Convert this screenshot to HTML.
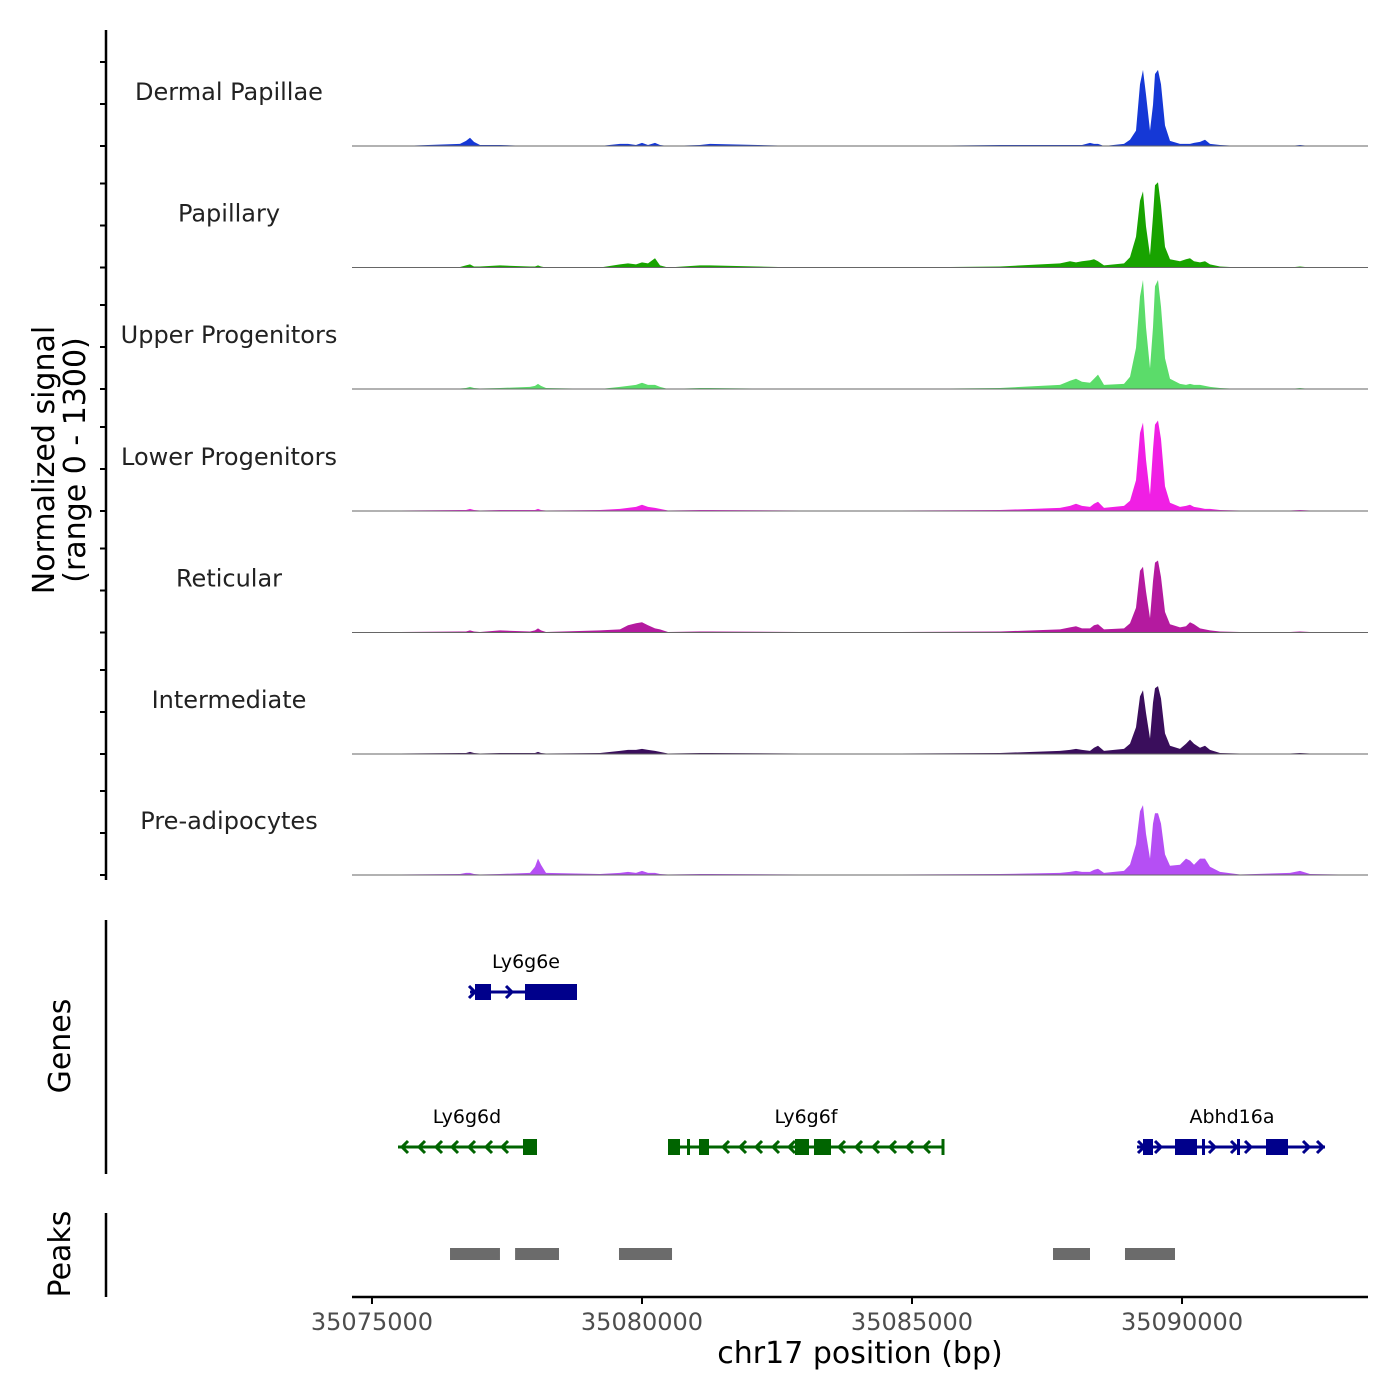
<!DOCTYPE html>
<html><head><meta charset="utf-8">
<style>
body{margin:0;background:#fff;}
svg{display:block;font-family:"DejaVu Sans","Liberation Sans",sans-serif;}
</style></head>
<body>
<svg id="chart" width="1400" height="1400" viewBox="0 0 1400 1400" xmlns="http://www.w3.org/2000/svg">
<g id="tracks"></g>
<g id="genes"></g>
<g id="peaks"></g>
<g id="axes"></g>
<text transform="translate(54,460) rotate(-90)" text-anchor="middle" font-size="30" fill="#000">Normalized signal</text>
<text transform="translate(85,460) rotate(-90)" text-anchor="middle" font-size="30" fill="#000">(range 0 - 1300)</text>
<text transform="translate(70,1046) rotate(-90)" text-anchor="middle" font-size="30" fill="#000">Genes</text>
<text transform="translate(70,1254) rotate(-90)" text-anchor="middle" font-size="30" fill="#000">Peaks</text>
<text x="860" y="1363" text-anchor="middle" font-size="30" fill="#000">chr17 position (bp)</text>
</svg>
<script>
const NS='http://www.w3.org/2000/svg';
const trackNames=['Dermal Papillae','Papillary','Upper Progenitors','Lower Progenitors','Reticular','Intermediate','Pre-adipocytes'];
const trackColors=['#1538d6','#18a300','#5bdc6a','#f01fe4','#b41a9f','#3a0e5c','#b54ff4'];
const positions=[35074630,35075519,35076630,35076741,35076815,35076889,35077000,35077370,35077926,35078019,35078074,35078130,35078222,35079222,35079593,35079741,35079889,35080000,35080111,35080241,35080334,35080482,35081074,35081260,35082926,35084778,35086630,35087741,35087926,35088037,35088148,35088296,35088370,35088444,35088556,35088926,35089037,35089148,35089222,35089278,35089333,35089407,35089463,35089500,35089556,35089611,35089685,35089778,35089963,35090074,35090148,35090222,35090333,35090426,35090519,35090704,35091074,35092000,35092185,35092370,35093444];
const sigDermal=[0,0,22,55,88,44,11,11,0,0,0,0,0,0,22,22,11,33,11,33,11,0,11,22,0,0,11,11,11,11,11,33,22,22,0,22,66,165,660,814,550,165,440,770,814,660,220,55,22,22,22,33,44,66,22,11,0,0,11,0,0];
const sigPapillary=[0,0,5,22,33,11,11,22,11,11,22,11,0,0,33,44,33,55,44,99,22,0,22,22,0,0,11,44,66,55,66,77,88,66,22,44,110,330,715,814,440,132,550,880,913,660,220,88,66,88,99,66,55,66,33,11,0,0,11,0,0];
const sigUpper=[0,0,5,11,22,11,5,11,22,33,55,33,11,0,22,33,44,66,44,44,22,0,11,11,0,0,11,44,88,110,77,66,110,154,44,55,132,440,990,1166,660,220,660,1100,1166,880,330,110,55,44,55,44,44,33,22,11,0,0,11,0,0];
const sigLower=[0,5,11,11,22,11,5,11,11,11,22,11,5,11,22,33,44,66,44,33,22,5,11,11,5,5,11,33,55,77,55,44,77,99,33,55,110,330,836,946,550,176,660,924,968,770,264,88,44,55,66,44,33,22,22,11,5,5,11,5,0];
const sigReticular=[0,5,11,11,22,11,5,22,11,22,44,22,5,22,33,77,99,110,77,44,33,5,11,11,5,5,11,33,55,66,44,44,77,88,33,44,99,264,660,704,440,154,550,748,770,594,220,88,55,66,110,88,44,33,22,11,5,5,11,5,0];
const sigInter=[0,5,11,11,22,11,5,11,11,11,22,11,5,11,33,44,44,55,44,33,22,5,11,11,5,5,11,33,44,55,44,33,66,88,33,55,110,286,616,682,440,165,550,704,726,594,220,88,55,110,154,110,66,88,44,11,5,5,11,5,0];
const sigPre=[0,5,11,22,22,11,5,11,22,88,176,110,22,11,22,33,22,44,22,22,11,5,11,11,5,5,11,22,33,44,33,33,55,66,22,44,110,330,682,748,440,176,550,660,660,550,220,99,110,176,154,110,176,176,88,33,5,22,44,11,0];
const signals=[sigDermal,sigPapillary,sigUpper,sigLower,sigReticular,sigInter,sigPre];
const xTicks=[35075000,35080000,35085000,35090000];
const xTickLabels=['35075000','35080000','35085000','35090000'];
const genePeaks=[[35076445,35077370],[35077650,35078463],[35079574,35080556],[35087611,35088296],[35088944,35089870]];

const X0=352,X1=1368,BP0=35074630,BP1=35093444;
const xs=bp=>X0+(bp-BP0)/(BP1-BP0)*(X1-X0);
const baselines=[146,267.5,389,511,632.5,754,875];
const TH=121.5;
const ys=(v,i)=>baselines[i]-v/1300*TH;

function mk(tag,attrs,parent){const e=document.createElementNS(NS,tag);for(const k in attrs)e.setAttribute(k,attrs[k]);parent.appendChild(e);return e;}
const tracks=document.getElementById('tracks');
signals.forEach((s,i)=>{
  let d='M'+xs(positions[0])+','+baselines[i];
  positions.forEach((p,j)=>{d+=' L'+xs(p).toFixed(1)+','+ys(s[j],i).toFixed(1);});
  d+=' L'+xs(positions[positions.length-1])+','+baselines[i]+' Z';
  const a=mk('path',{d:d,fill:trackColors[i]},tracks);
  
  
  const l=mk('line',{x1:X0,x2:X1,y1:baselines[i],y2:baselines[i],stroke:'#666','stroke-width':1},tracks);
  
  
  const t=mk('text',{x:229,y:baselines[i]-46,'text-anchor':'middle','font-size':24,fill:'#222'},tracks);
  t.textContent=trackNames[i];
  
  
});

const axes=document.getElementById('axes');
mk('line',{x1:106,x2:106,y1:30,y2:880,stroke:'#000','stroke-width':2.5},axes);
baselines.forEach(b=>{[0,42,84].forEach(o=>{mk('line',{x1:100,x2:106,y1:b-o,y2:b-o,stroke:'#000','stroke-width':2},axes);});});
mk('line',{x1:106,x2:106,y1:920,y2:1174,stroke:'#000','stroke-width':2.5},axes);
mk('line',{x1:106,x2:106,y1:1213,y2:1297,stroke:'#000','stroke-width':2.5},axes);
mk('line',{x1:352,x2:1368,y1:1297,y2:1297,stroke:'#000','stroke-width':2.5},axes);
xTicks.forEach((t,i)=>{
  mk('line',{x1:xs(t),x2:xs(t),y1:1297,y2:1304,stroke:'#000','stroke-width':2},axes);
  const tx=mk('text',{x:xs(t),y:1330,'text-anchor':'middle','font-size':24,fill:'#4d4d4d'},axes);
  tx.textContent=xTickLabels[i];
  
  
});

const peaks=document.getElementById('peaks');
genePeaks.forEach(p=>{
  const r=mk('rect',{x:xs(p[0]),y:1248,width:xs(p[1])-xs(p[0]),height:12,fill:'#6b6b6b'},peaks);
  
  
});

const genes=document.getElementById('genes');
function gene(name,y,x0,x1,col,exons,chev,dir,labelX){
  mk('line',{x1:x0,x2:x1,y1:y,y2:y,stroke:col,'stroke-width':3},genes);
  exons.forEach(e=>mk('rect',{x:e[0],y:y-8,width:e[1]-e[0],height:16,fill:col},genes));
  chev.forEach(c=>{const d=dir>0?`M${c-5},${y-6} L${c+1},${y} L${c-5},${y+6}`:`M${c+5},${y-6} L${c-1},${y} L${c+5},${y+6}`;mk('path',{d:d,stroke:col,'stroke-width':3,fill:'none'},genes);});
  const t=mk('text',{x:labelX,y:y-24,'text-anchor':'middle','font-size':19,fill:'#000'},genes);
  t.textContent=name;
  
  
}
gene('Ly6g6e',992,470,577,'#00008b',[[475,491],[525,577]],[474,511],1,526);
gene('Ly6g6d',1147,398,537,'#006400',[[523,537]],[403,420,437,453,470,487,503],-1,467);
gene('Ly6g6f',1147,668,943,'#006400',[[668,680],[687,690],[699,709],[795,809],[814,831]],[724,741,757,774,790,840,857,874,891,908,925],-1,806);
mk('line',{x1:943,x2:943,y1:1139,y2:1155,stroke:'#006400','stroke-width':3},genes);
gene('Abhd16a',1147,1137,1325,'#00008b',[[1143,1153],[1175,1197],[1202,1205],[1237,1240],[1266,1288]],[1143,1160,1214,1236,1250,1308,1322],1,1232);
</script>
</body></html>
